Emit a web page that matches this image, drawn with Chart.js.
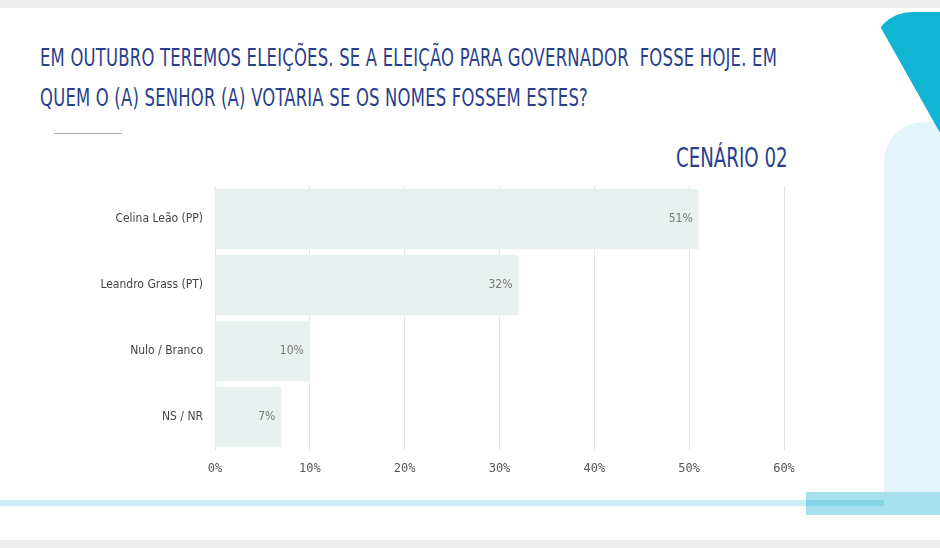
<!DOCTYPE html>
<html><head><meta charset="utf-8">
<script src="https://cdn.jsdelivr.net/npm/chart.js@4"></script>
<style>
body{margin:0;width:940px;height:548px;overflow:hidden;background:#fff;position:relative;font-family:"DejaVu Sans Condensed","DejaVu Sans",sans-serif;}
#top{position:absolute;left:0;top:0;width:940px;height:8px;background:#ececec}
#bot{position:absolute;left:0;top:540px;width:940px;height:8px;background:#ececec}
#t{position:absolute;left:40px;top:38px;color:#2a3f8a;font-size:25px;line-height:40px;letter-spacing:0.3px;transform:scaleX(0.73);transform-origin:left top;white-space:nowrap}
#rule{position:absolute;left:54px;top:133px;width:68px;height:1px;background:#aab}
#cen{position:absolute;left:676px;top:142px;color:#2a3f8a;font-size:27px;transform:scaleX(0.75);transform-origin:left top}
#d1{position:absolute;left:872px;top:12px;width:90px;height:120px;background:#11b5d4;border-radius:40px 0 0 40px;clip-path:polygon(0 0,100% 0,100% 100%,75% 100%)}
#d2{position:absolute;left:884px;top:122px;width:70px;height:380px;background:#e3f4fa;border-radius:40px 0 0 0}
#band{position:absolute;left:0;top:500px;width:940px;height:6px;background:#cdeef6}
#box{position:absolute;left:806px;top:492px;width:134px;height:23px;background:#a8e1ee}
#box2{position:absolute;left:806px;top:500px;width:78px;height:6px;background:#86d3e6}
canvas{position:absolute;left:0;top:0}
</style></head><body>
<div id="top"></div><div id="bot"></div>
<div id="d2"></div><div id="d1"></div>
<div id="band"></div><div id="box"></div><div id="box2"></div>
<div id="t">EM OUTUBRO TEREMOS ELEIÇÕES. SE A ELEIÇÃO PARA GOVERNADOR&nbsp; FOSSE HOJE. EM<br>QUEM O (A) SENHOR (A) VOTARIA SE OS NOMES FOSSEM ESTES?</div>
<div id="rule"></div>
<div id="cen">CENÁRIO 02</div>
<div style="position:absolute;left:0;top:0;width:940px;height:548px"><canvas id="c"></canvas></div>
<script>
const categories=["Celina Leão (PP)","Leandro Grass (PT)","Nulo / Branco","NS / NR"];
const values=[51,32,10,7];
const ticks=[0,10,20,30,40,50,60];
const labelPlugin={id:'lbl',afterDatasetsDraw(ch){const c=ch.ctx;const m=ch.getDatasetMeta(0);c.save();c.fillStyle='#777';c.font='12px "DejaVu Sans Condensed",sans-serif';c.textAlign='right';c.textBaseline='middle';m.data.forEach((b,i)=>{c.fillText(values[i]+'%',b.x-6,b.y);});c.restore();}};
new Chart(document.getElementById('c'),{type:'bar',
data:{labels:categories,datasets:[{data:values,backgroundColor:'#e9f0f0',barPercentage:0.92,categoryPercentage:1}]},
options:{responsive:true,maintainAspectRatio:false,animation:false,indexAxis:'y',
layout:{padding:{top:186,right:156,bottom:68,left:0}},
plugins:{legend:{display:false},tooltip:{enabled:false}},
scales:{
x:{min:0,max:60,afterFit(s){s.height=30},afterBuildTicks(s){s.ticks=ticks.map(v=>({value:v}))},
 border:{display:false},grid:{color:'#e4e4e4',drawTicks:false},
 ticks:{padding:12,color:'#555',font:{family:'"DejaVu Sans Mono"',size:12},callback:v=>v+'%'}},
y:{afterFit(s){s.width=215},border:{display:false},grid:{display:false},
 ticks:{padding:4,color:'#444',font:{family:'"DejaVu Sans Condensed"',size:12}}}
}},plugins:[labelPlugin]});
</script></body></html>
